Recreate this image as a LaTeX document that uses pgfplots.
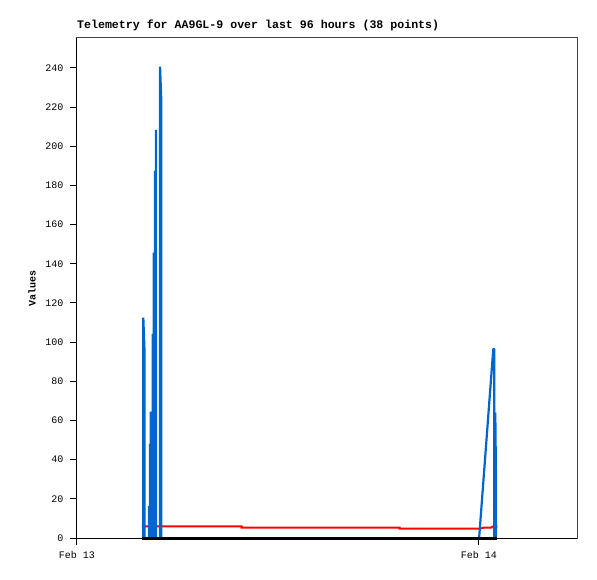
\documentclass[border=0pt]{standalone}
\usepackage{fontspec}
\setmainfont{Liberation Mono}
\usepackage{pgfplots}
\pgfplotsset{compat=1.18}
\definecolor{lineblue}{RGB}{0,102,204}
\definecolor{framegray}{RGB}{68,68,68}
\begin{document}
\begin{tikzpicture}
\useasboundingbox (-77pt,-41pt) rectangle (520pt,538pt);
\begin{axis}[
  at={(0,0)}, anchor=south west,
  scale only axis, width=500pt, height=500pt,
  xmin=0, xmax=29.86, ymin=0, ymax=255.3,
  axis line style={framegray, line width=1pt},
  xtick pos=bottom, ytick pos=left,
  tick align=outside, major tick length=7pt,
  tick style={draw=black, line width=1pt},
  xtick={0,24}, xticklabels={Feb 13, Feb 14},
  ytick={0,20,...,240},
  /pgf/number format/assume math mode=true,
  ticklabel style={font=\fontsize{10}{11}\selectfont},
  yticklabel style={xshift=-3pt},
  xticklabel style={yshift=-3pt},
  ylabel={\textbf{Values}},
  ylabel style={font=\fontsize{11.6}{13}\selectfont},
  every axis y label/.style={at={(axis description cs:-0.09,0.5)}, rotate=90, anchor=center},
  title={\textbf{Telemetry for AA9GL-9 over last 96 hours (38 points)}},
  title style={font=\fontsize{11.6}{13}\selectfont, at={(axis description cs:0,1)}, anchor=base west, inner sep=0pt, yshift=3.5pt},
  clip=false,
  unbounded coords=jump,
]
\addplot[red, line width=2pt] coordinates {
  (3.87,6.0) (9.83,6.0) (9.83,5.3) (19.27,5.3) (19.27,4.75) (24.05,4.75)
  (24.3,5.3) (24.75,5.3) (24.8,5.8) (25.1,5.8)
};
\addplot[lineblue, line width=2.2pt, line join=bevel, line cap=butt] coordinates {
  (3.96,0) (3.96,112.5) (4.03,96) (4.03,0) (4.2,nan)
  (4.30,0) (4.30,16.3) (4.30,0) (4.36,0) (4.36,48) (4.36,0)
  (4.41,0) (4.41,64.5) (4.41,0) (4.52,0) (4.52,104.2) (4.52,0)
  (4.58,0) (4.58,145.7) (4.58,0) (4.66,0) (4.66,187.4) (4.66,0)
  (4.72,0) (4.72,208.4) (4.72,0) (4.85,nan)
  (4.96,0) (4.96,240.7) (5.03,224.5) (5.03,0) (10,nan)
  (24.02,0.6) (24.86,96.5) (24.92,96.5) (24.92,0)
  (24.98,0) (24.98,64) (25.0,48) (25.02,32) (25.02,0)
};
\addplot[black, line width=3pt] coordinates {
  (3.87,0) (25.1,0)
};
\draw[black, line width=1pt] (rel axis cs:0,1) -- (rel axis cs:0,0) -- (rel axis cs:1,0);
\pgfplotsinvokeforeach{0,20,...,240}{
  \draw[black, line width=1pt] (axis cs:0,#1) -- ++(-7pt,0pt);
}
\draw[black, line width=1pt] (axis cs:0,0) -- ++(0pt,-7pt);
\draw[black, line width=1pt] (axis cs:24,0) -- ++(0pt,-7pt);
\end{axis}
\end{tikzpicture}
\end{document}
